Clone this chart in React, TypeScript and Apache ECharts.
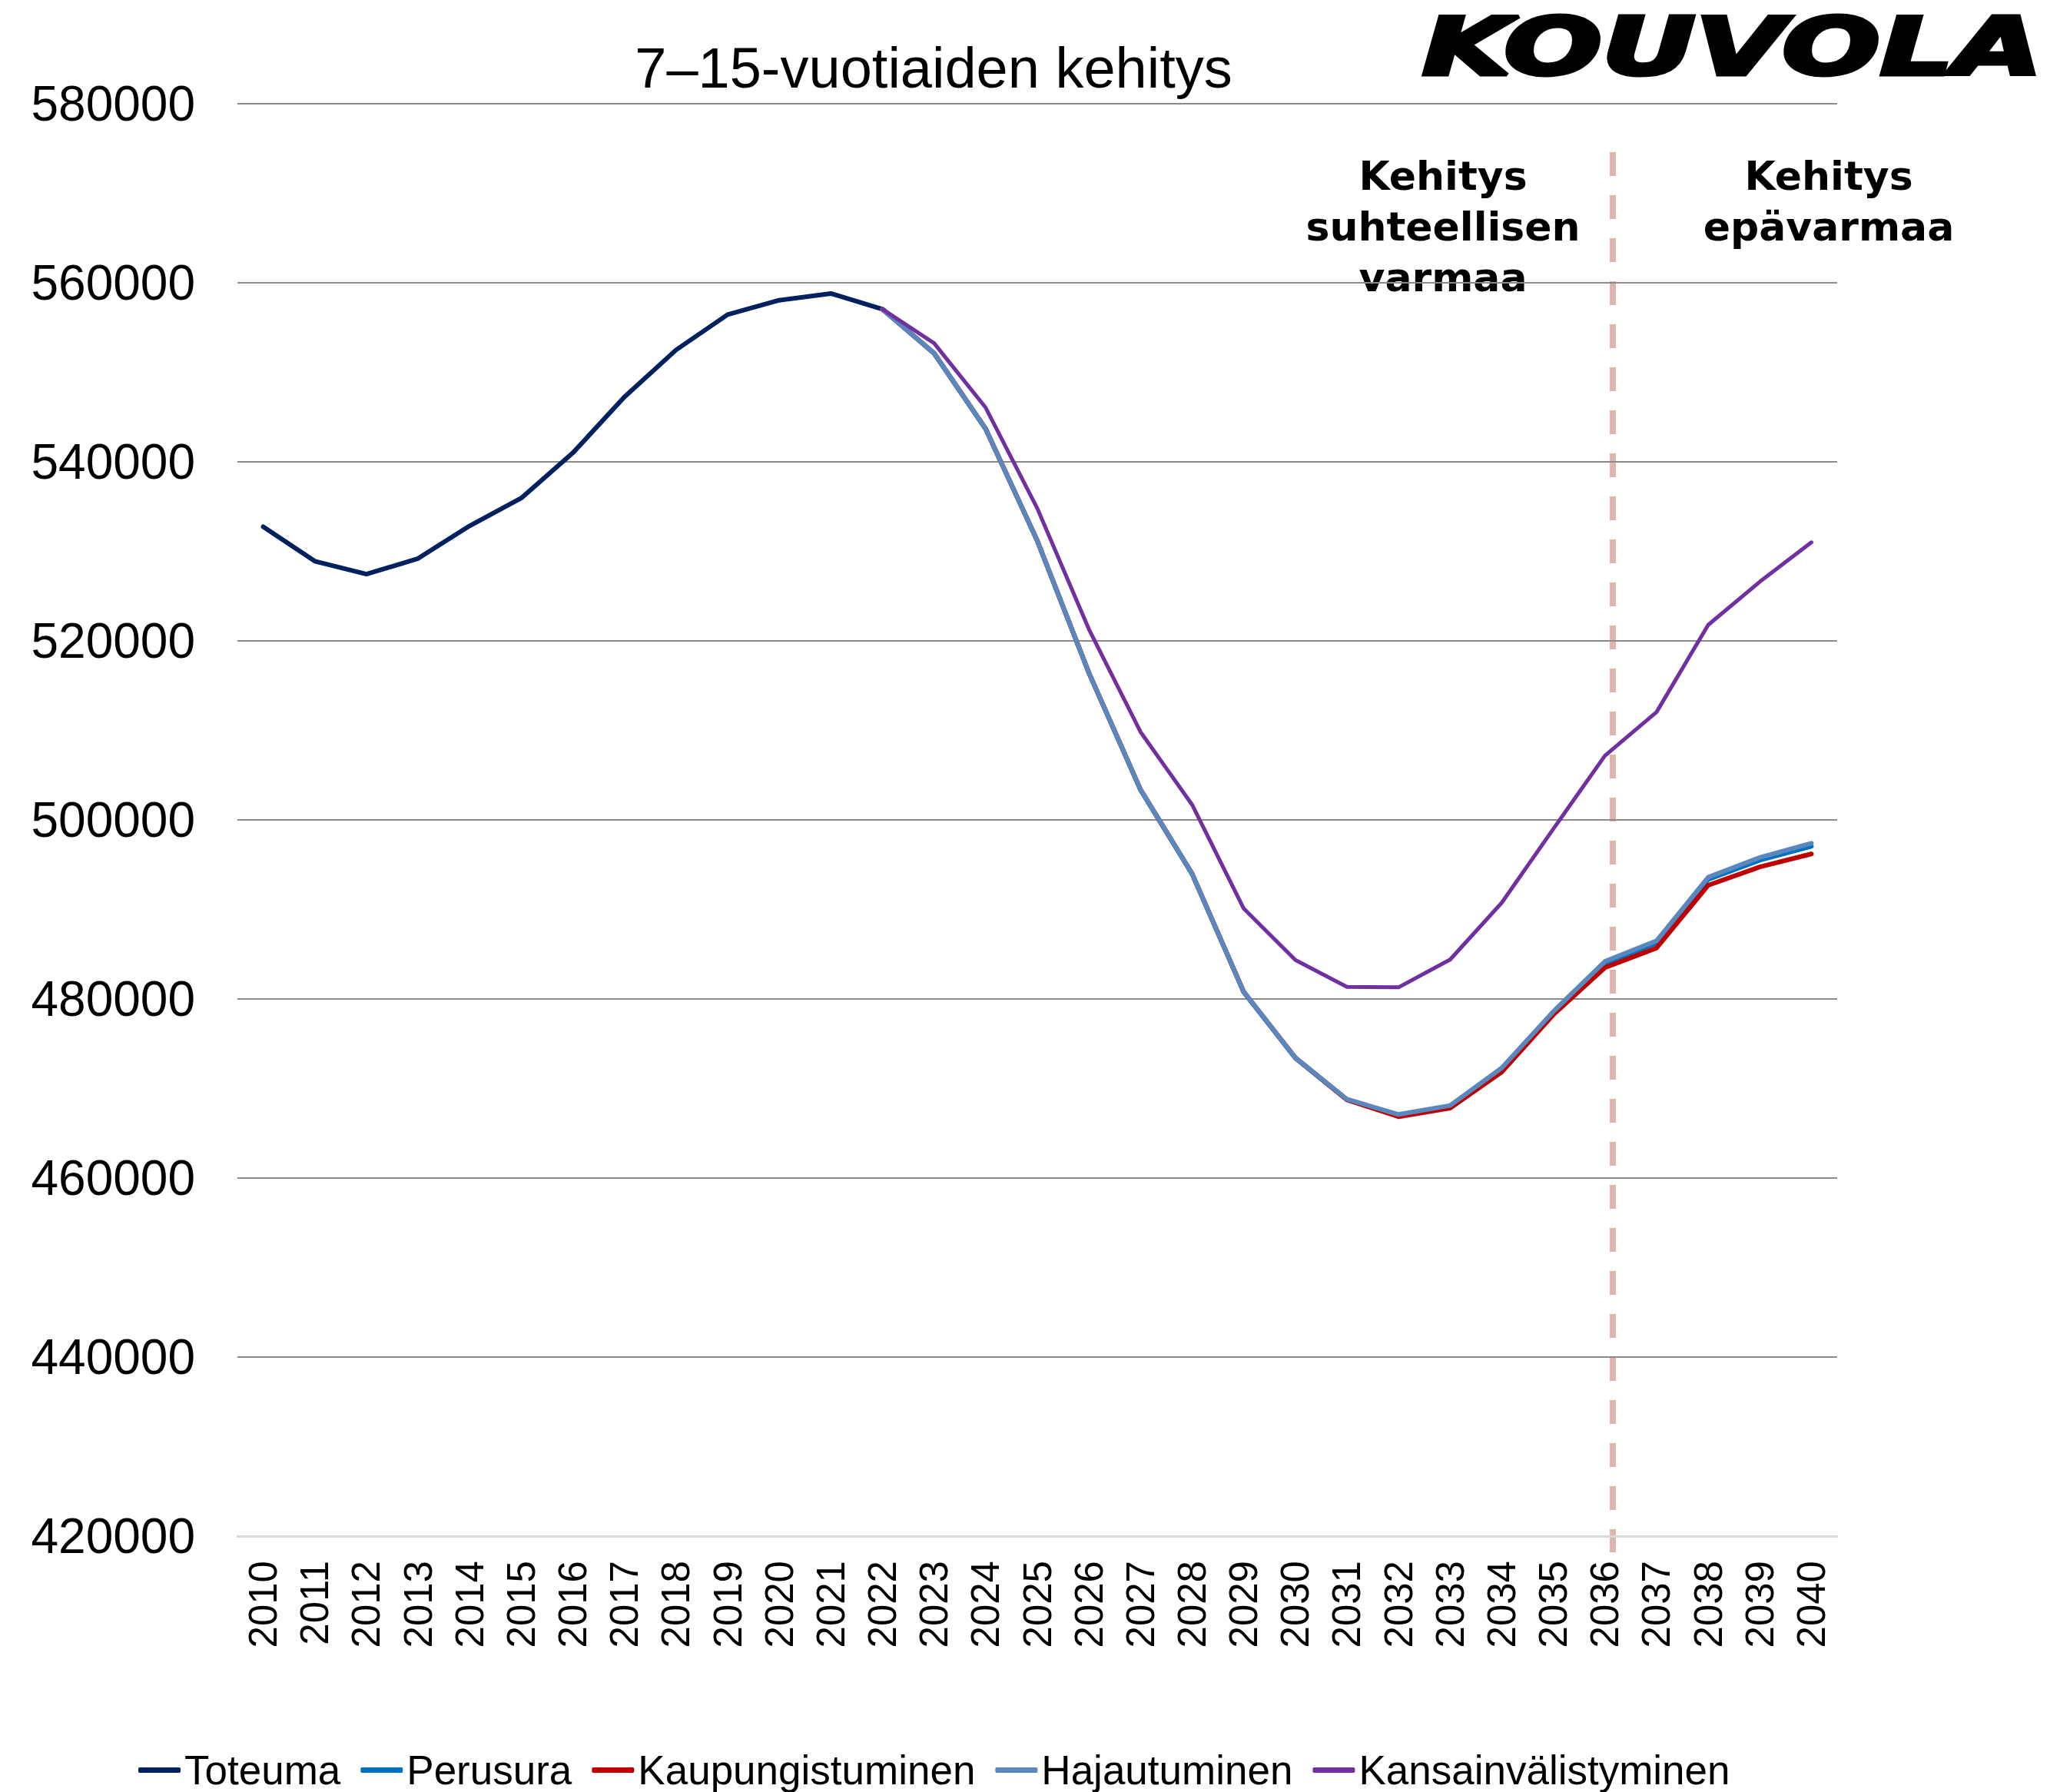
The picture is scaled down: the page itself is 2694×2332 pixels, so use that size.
import React, { useEffect, useRef } from "react";
import * as echarts from "echarts";

const years = [
  "2010", "2011", "2012", "2013", "2014", "2015", "2016", "2017", "2018", "2019",
  "2020", "2021", "2022", "2023", "2024", "2025", "2026", "2027", "2028", "2029",
  "2030", "2031", "2032", "2033", "2034", "2035", "2036", "2037", "2038", "2039", "2040",
];

// Observed 2010–2022
const toteuma = [
  532750, 528900, 527450, 529200, 532850, 535950, 541000, 547250, 552500, 556450,
  558050, 558800, 557050,
];

// Projections 2022–2040
const perusura = [
  557050, 552100, 543650, 531150, 516400, 503350, 493950, 480750, 473400, 468750,
  467000, 468000, 472150, 478450, 483950, 486250, 493350, 495500, 497050,
];
const kaupungistuminen = [
  557050, 552150, 543700, 531200, 516450, 503400, 494000, 480800, 473450, 468750,
  466850, 467800, 471850, 478250, 483500, 485700, 492700, 494750, 496200,
];
const hajautuminen = [
  557050, 552150, 543700, 531200, 516450, 503400, 494000, 480800, 473450, 468800,
  467100, 468100, 472300, 478600, 484200, 486500, 493600, 495800, 497400,
];
const kansainvalistyminen = [
  557050, 553250, 546050, 534800, 521300, 509830, 501700, 490100, 484350, 481350,
  481300, 484400, 490750, 499000, 507180, 512050, 521780, 526600, 531000,
];

const yTicks = { min: 420000, max: 580000, interval: 20000 };

const seriesNames = ["Toteuma", "Perusura", "Kaupungistuminen", "Hajautuminen", "Kansainvälistyminen"];
const titleText = "7–15-vuotiaiden kehitys";
const noteLeft = ["Kehitys", "suhteellisen", "varmaa"];
const noteRight = ["Kehitys", "epävarmaa"];

const FONT = "'Liberation Sans', Arial, Helvetica, sans-serif";
const NOTE_FONT = "'DejaVu Sans', sans-serif";

const padObserved = (vals: number[]) =>
  years.map((_, i) => (i < vals.length ? vals[i] : null));
const padForecast = (vals: number[]) => {
  const start = years.length - vals.length;
  return years.map((_, i) => (i >= start ? vals[i - start] : null));
};

const noteText = (text: string, x: number, y: number) => ({
  type: "text",
  x,
  y,
  style: {
    text,
    fontSize: 52,
    fontWeight: "bold",
    fontFamily: NOTE_FONT,
    fill: "#000000",
    align: "center",
    verticalAlign: "middle",
    textAlign: "center",
    textVerticalAlign: "middle",
  },
});

export default function App() {
  const ref = useRef<HTMLDivElement>(null);

  useEffect(() => {
    document.body.style.margin = "0";
    const chart = echarts.init(ref.current!, null, { renderer: "svg" });

    const lineSeries = (name: string, data: (number | null)[], color: string, width: number) => ({
      name,
      type: "line",
      data,
      symbol: "none",
      showSymbol: false,
      connectNulls: false,
      lineStyle: { color, width, cap: "round", join: "round" },
      itemStyle: { color },
      emphasis: { disabled: true },
    });

    chart.setOption({
      animation: false,
      backgroundColor: "#ffffff",
      grid: { left: 309, right: 303, top: 135, bottom: 333, containLabel: false },
      xAxis: {
        type: "category",
        data: years,
        boundaryGap: true,
        axisLine: { show: true, lineStyle: { color: "#d9d9d9", width: 3 } },
        axisTick: { show: false },
        axisLabel: {
          rotate: 90,
          interval: 0,
          margin: 32,
          fontSize: 51,
          fontFamily: FONT,
          color: "#000000",
        },
        splitLine: { show: false },
      },
      yAxis: {
        type: "value",
        min: yTicks.min,
        max: yTicks.max,
        interval: yTicks.interval,
        axisLine: { show: false },
        axisTick: { show: false },
        axisLabel: {
          margin: 55,
          fontSize: 64,
          fontFamily: FONT,
          color: "#000000",
          formatter: (v: number) => String(v),
        },
        splitLine: { show: true, lineStyle: { color: "#8a8a8a", width: 2 } },
      },
      legend: {
        left: 180,
        top: 2277,
        padding: 0,
        itemWidth: 55,
        itemHeight: 7,
        itemGap: 26,
        icon: "roundRect",
        textStyle: { fontSize: 53, fontFamily: FONT, color: "#000000" },
        data: seriesNames,
      },
      series: [
        lineSeries(seriesNames[0], padObserved(toteuma), "#002060", 6),
        lineSeries(seriesNames[1], padForecast(perusura), "#0070C0", 6),
        lineSeries(seriesNames[2], padForecast(kaupungistuminen), "#C00000", 6),
        lineSeries(seriesNames[3], padForecast(hajautuminen), "#5A88BE", 6),
        lineSeries(seriesNames[4], padForecast(kansainvalistyminen), "#7030A0", 5),
      ],
      graphic: [
        {
          type: "line",
          z: 0,
          shape: { x1: 2099, y1: 198, x2: 2099, y2: 2020 },
          style: { stroke: "#DEB5AD", lineWidth: 8, lineDash: [31, 25] },
        },
        {
          type: "text",
          x: 1215,
          y: 88,
          style: {
            text: titleText,
            fontSize: 74,
            fontFamily: FONT,
            fill: "#000000",
            align: "center",
            verticalAlign: "middle",
            textAlign: "center",
            textVerticalAlign: "middle",
          },
        },
        {
          type: "text",
          x: 1851,
          y: 61,
          scaleX: 1.44,
          style: {
            text: "KOUVOLA",
            fontSize: 104,
            fontFamily: "'DejaVu Sans', sans-serif",
            fontWeight: "bold",
            fontStyle: "italic",
            fill: "#000000",
            stroke: "#000000",
            lineWidth: 5,
            align: "left",
            verticalAlign: "middle",
            textAlign: "left",
            textVerticalAlign: "middle",
          },
        },
        noteText(noteLeft[0], 1878, 229),
        noteText(noteLeft[1], 1878, 295),
        noteText(noteLeft[2], 1878, 361),
        noteText(noteRight[0], 2380, 229),
        noteText(noteRight[1], 2380, 295),
      ],
    });

    return () => chart.dispose();
  }, []);

  return (
    <div
      ref={ref}
      style={{ position: "absolute", left: 0, top: 0, width: 2694, height: 2332 }}
    />
  );
}
